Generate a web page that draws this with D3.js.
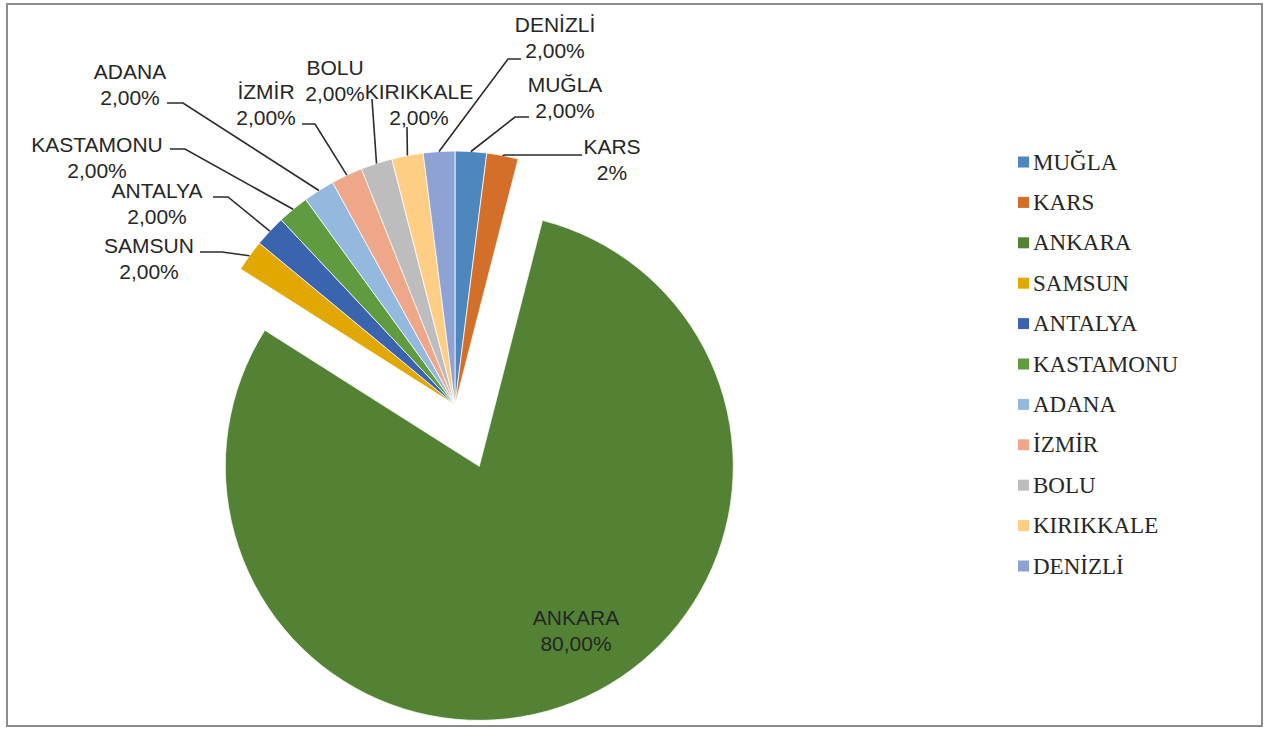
<!DOCTYPE html>
<html>
<head>
<meta charset="utf-8">
<script src="https://cdn.jsdelivr.net/npm/d3@7"></script>
<style>
  html, body { margin: 0; padding: 0; background: #fff; }
  svg { display: block; }
</style>
</head>
<body>
<svg id="chart" width="1267" height="729"></svg>
<script>
// ---- data ----
const categories = ["MUĞLA", "KARS", "ANKARA", "SAMSUN", "ANTALYA", "KASTAMONU", "ADANA", "İZMİR", "BOLU", "KIRIKKALE", "DENİZLİ"];
const values = [2, 2, 80, 2, 2, 2, 2, 2, 2, 2, 2];
const pctDecimals = [2, 0, 2, 2, 2, 2, 2, 2, 2, 2, 2];

// ---- styles / layout ----
const colors = ["#4e86be", "#d46f2a", "#548235", "#e0a800", "#3a64ae", "#619b3f", "#95b8de", "#efa78a", "#bdbdbd", "#ffce85", "#8ea2d4"];
const explode = [0, 0, 66, 0, 0, 0, 0, 0, 0, 0, 0];
const labelPos = [[565, 84], [612, 146], [576, 617], [149, 245], [157, 190], [97, 144], [130, 71], [266, 91], [335, 67], [419, 91], [555, 24]];
const leaderPts = [
  [[515, 117], [529, 117]],
  [[505, 155], [582, 155]],
  null,
  [[222, 252], [200, 252]],
  [[228, 197], [213, 197]],
  [[185, 149], [170, 149]],
  [[183, 103], [167, 103]],
  [[315, 124], [302, 124]],
  [[372, 99], [372, 99]],
  [[407, 127], [407, 127]],
  [[508, 59], [521, 59]]
];

const W = 1267, H = 729;
const cx = 455, cy = 405, R = 254;

const svg = d3.select("#chart");

// frame
svg.append("rect")
  .attr("x", 7).attr("y", 4).attr("width", 1255).attr("height", 722)
  .attr("fill", "#fff").attr("stroke", "#8c8c8c").attr("stroke-width", 2);

const data = categories.map((c, i) => ({ name: c, value: values[i], i }));
const total = d3.sum(values);

const pie = d3.pie().value(d => d.value).sort(null).startAngle(0).endAngle(2 * Math.PI);
const arcs = pie(data);
const arc = d3.arc().innerRadius(0).outerRadius(R);
const edgeArc = d3.arc().innerRadius(R).outerRadius(R);

const g = svg.append("g").attr("transform", `translate(${cx},${cy})`);

function offset(d) {
  const a = (d.startAngle + d.endAngle) / 2;
  const e = explode[d.data.i];
  return [Math.sin(a) * e, -Math.cos(a) * e];
}

g.selectAll("path.slice")
  .data(arcs)
  .join("path")
  .attr("class", "slice")
  .attr("d", arc)
  .attr("transform", d => { const o = offset(d); return `translate(${o[0]},${o[1]})`; })
  .attr("fill", d => colors[d.data.i])
  .attr("stroke", "#fff")
  .attr("stroke-width", 0.75);

// leader lines
const line = d3.line();
arcs.forEach(d => {
  const lp = leaderPts[d.data.i];
  if (!lp) return;
  const c = edgeArc.centroid(d);
  const start = [cx + c[0], cy + c[1]];
  svg.append("path")
    .attr("d", line([start, lp[0], lp[1]]))
    .attr("fill", "none")
    .attr("stroke", "#2b2b2b")
    .attr("stroke-width", 1.6);
});

// labels
function fmtPct(v, dec) {
  return d3.format("." + dec + "%")(v / total).replace(".", ",");
}
const labels = svg.append("g")
  .attr("font-family", "'Liberation Sans', Arial, sans-serif")
  .attr("font-size", 21)
  .attr("fill", "#262626")
  .attr("text-anchor", "middle");
arcs.forEach(d => {
  const i = d.data.i;
  const p = labelPos[i];
  labels.append("text").attr("x", p[0]).attr("y", p[1] + 7.5).text(d.data.name);
  labels.append("text").attr("x", p[0]).attr("y", p[1] + 26 + 7.5).text(fmtPct(d.data.value, pctDecimals[i]));
});

// legend
const legend = svg.append("g").attr("transform", "translate(1018,162)");
const step = 40.4;
const items = legend.selectAll("g.item").data(data).join("g")
  .attr("class", "item")
  .attr("transform", (d, k) => `translate(0,${k * step})`);
items.append("rect")
  .attr("x", 0).attr("y", -5.5).attr("width", 11).attr("height", 11)
  .attr("fill", d => colors[d.i]);
items.append("text")
  .attr("x", 15).attr("y", 7.6)
  .attr("font-family", "'Liberation Serif', 'Times New Roman', serif")
  .attr("font-size", 23)
  .attr("fill", "#262626")
  .text(d => d.name);
</script>
</body>
</html>
